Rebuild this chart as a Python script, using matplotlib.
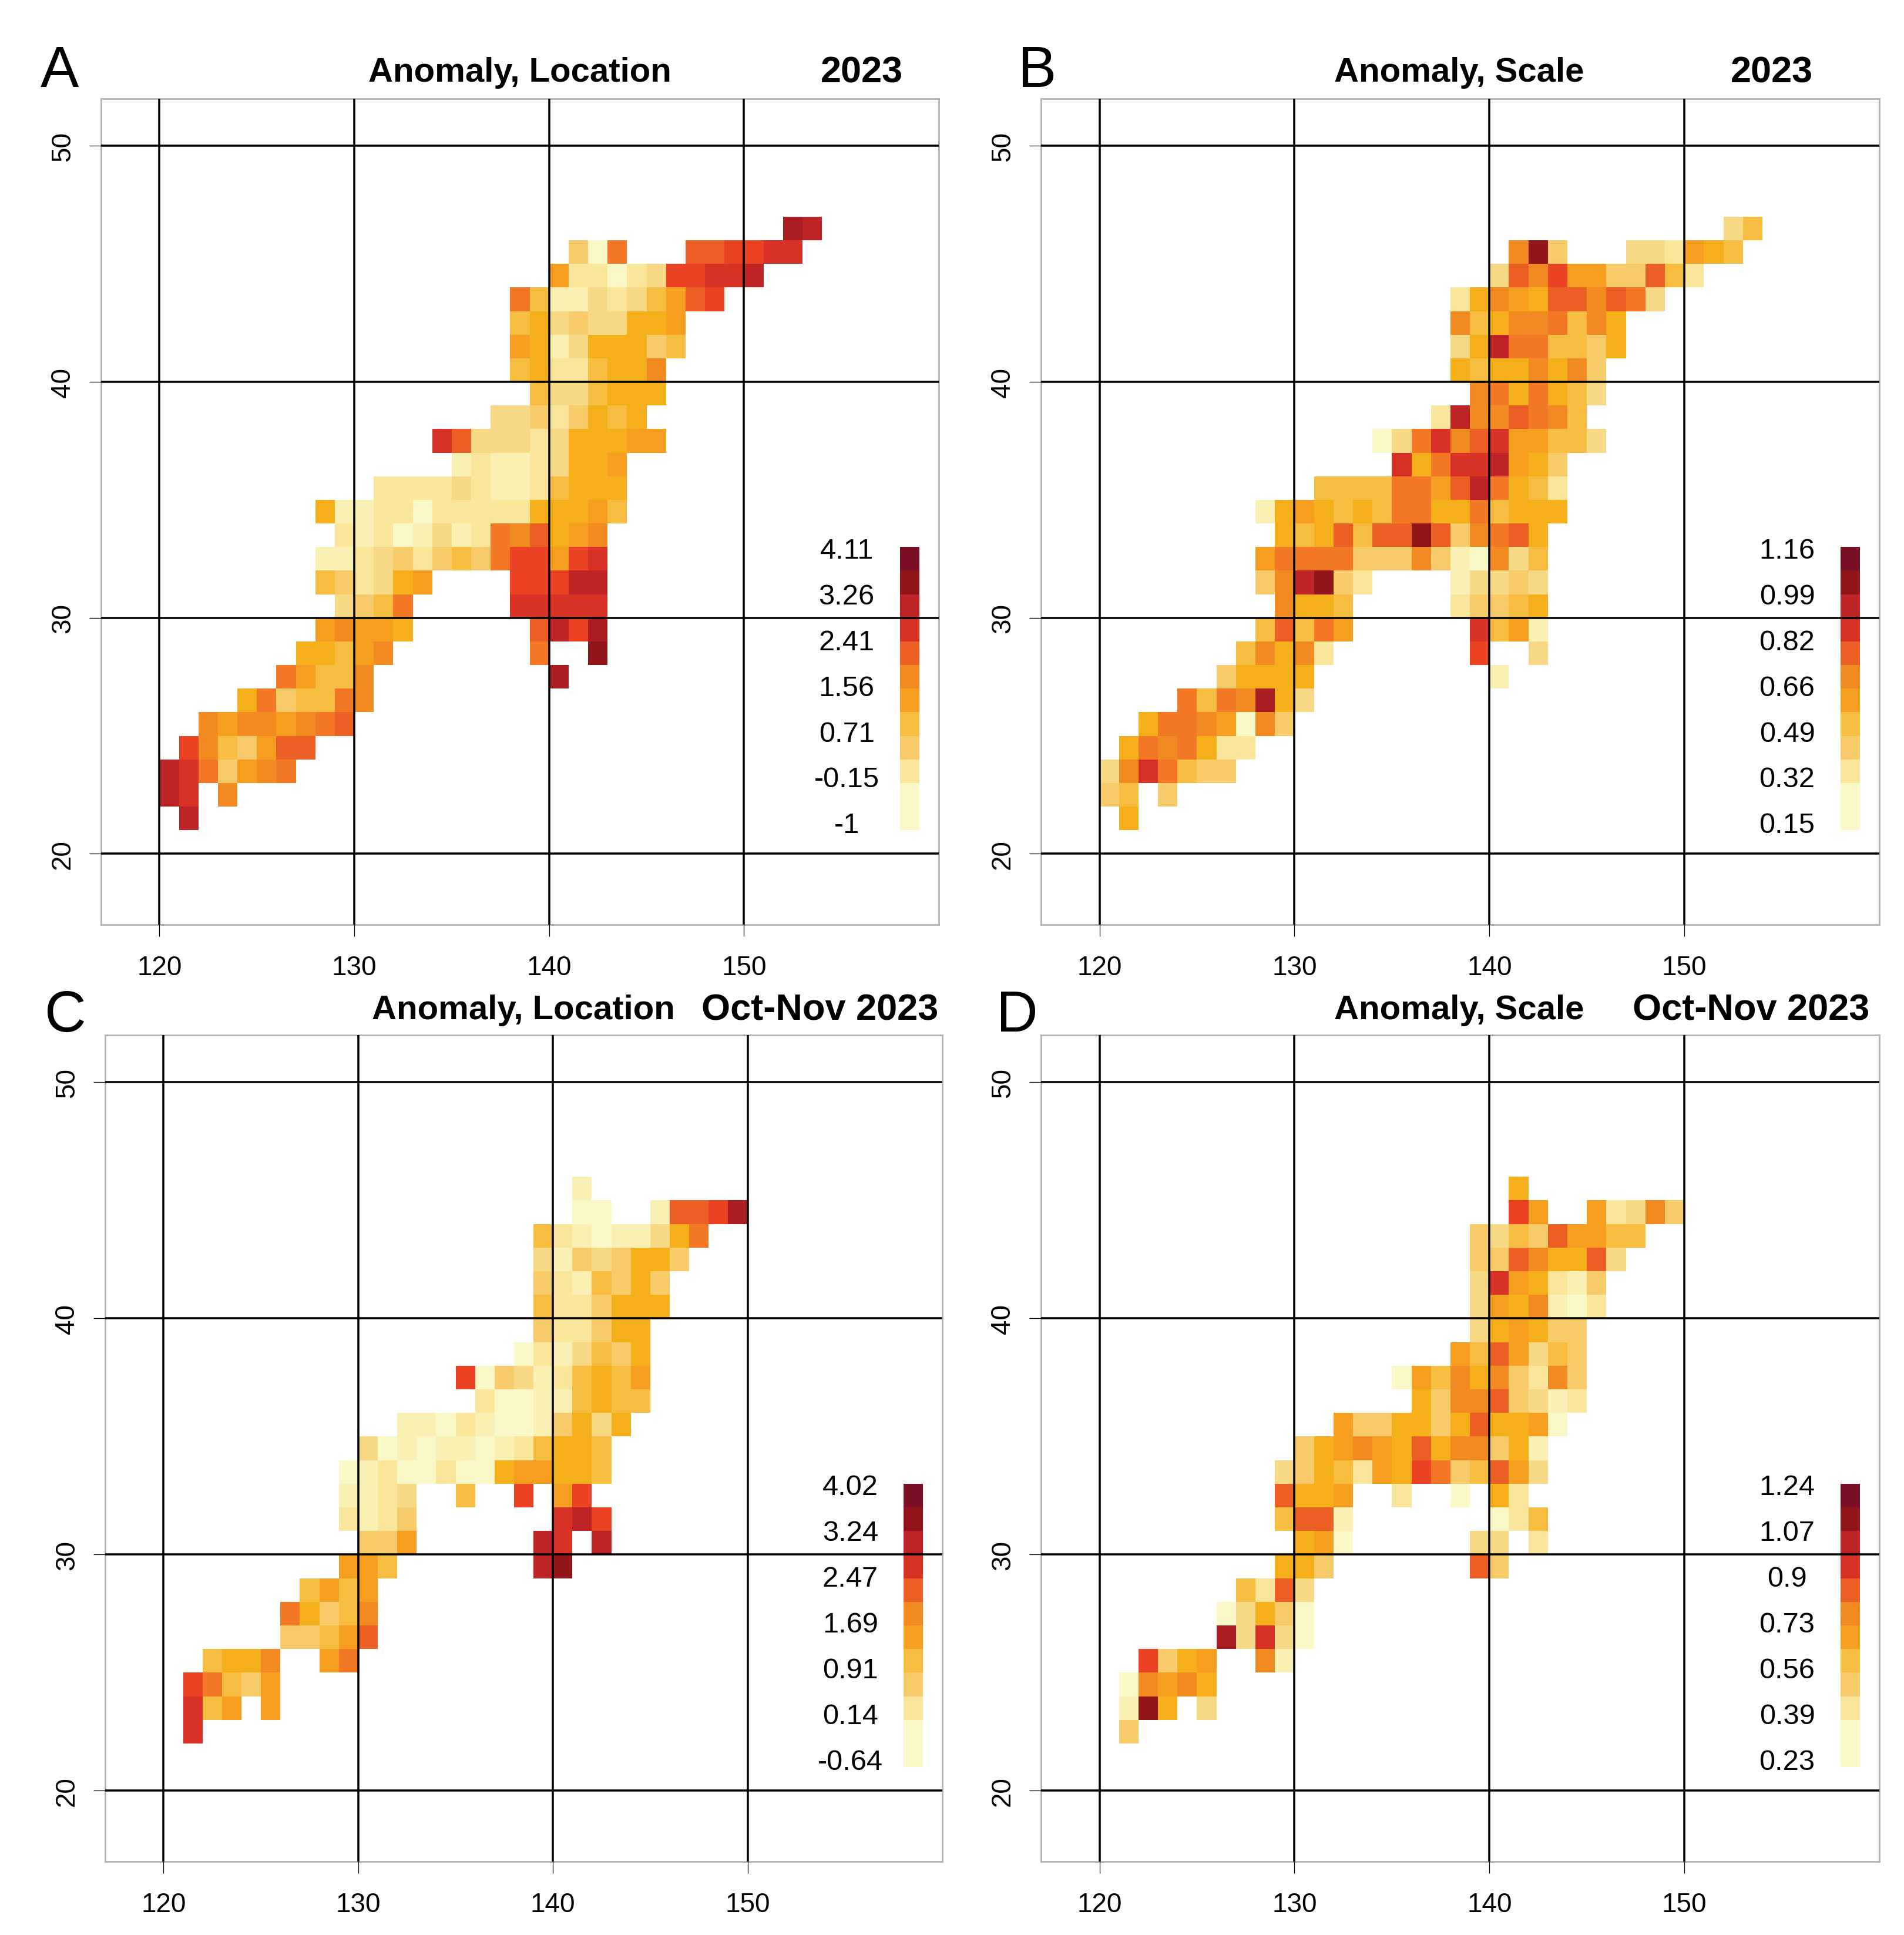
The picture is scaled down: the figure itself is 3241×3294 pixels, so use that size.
#!/usr/bin/env python3
"""Four panel anomaly maps (location and scale, 2023 and Oct-Nov 2023) on a 1 degree grid."""
import matplotlib
matplotlib.use("Agg")
import matplotlib.pyplot as plt
import numpy as np
from matplotlib.colors import BoundaryNorm, ListedColormap

W, H = 3241, 3295
DPI = 300

# colour classes, one letter per class, in order
CODES = "abcdefghijklmnopq"
COLORS = ["#FBF8C8", "#FBF0B3", "#F9E69A", "#F7D985", "#F7CB69", "#F7BD40", "#F5AF1B",
          "#F59E1F", "#F18A21", "#F27825", "#EB5F25", "#EA4223", "#D73225", "#BE2425",
          "#AA1D22", "#911518", "#7B1025"]
# the classes shown in the little colour key, bottom to top
KEY_CODES = "aacefhikmnpq"

# (lat of the cell's south edge, lon of first cell's west edge, classes), "." = no data
ROWS_A = [(46, 152, "on"), (45, 141, "eaj...kkllmm"), (44, 140, "hccacdllmmn"),
          (43, 138, "jfbbdcdfhkl"), (42, 138, "fgdeddggh"), (41, 138, "hgbdgggef"),
          (40, 138, "fgccfggi"), (39, 139, "fddfggg"), (38, 137, "ddecegfg"),
          (37, 134, "mkdddcdggghh"), (36, 135, "bcbbcdggh"), (35, 131, "ccccdcbbcfggg"),
          (34, 128, "gbbccacccccggghf"), (33, 129, "cbcabdbcjikghi"),
          (32, 128, "bbcdecefejllhlm"), (31, 128, "fecdgh....lllnn"),
          (30, 129, "defj.....mmmmm"), (29, 128, "hihhg......knlo"),
          (28, 127, "ggfhi.......j..p"), (27, 126, "jhffi.........o"), (26, 124, "gjeffji"),
          (25, 122, "ihiihijk"), (24, 121, "lifehkk"), (23, 120, "nmjehij"),
          (22, 120, "nm.i"), (21, 121, "n")]
ROWS_B = [(46, 152, "df"), (45, 141, "ipe...ddchgf"), (44, 140, "dkilhheekfc"),
          (43, 138, "cgihgkkikjd"), (42, 138, "ifgiijfig"), (41, 138, "dgnjjffeg"),
          (40, 138, "gfggigie"), (39, 139, "ijgjgfd"), (38, 137, "cniikjif"),
          (37, 134, "adjmikmhhffd"), (36, 135, "mgjmmnhge"), (35, 131, "ffffjjhknjgfc"),
          (34, 128, "bghgfgfjjggjfggg"), (33, 129, "gfgkfkkpkeijkg"),
          (32, 128, "hjjjjeeeiebaidf"), (31, 128, "einpec....bdded"),
          (30, 129, "iggf.....ceefg"), (29, 128, "fkfjh......mfhb"),
          (28, 127, "figic.......l..d"), (27, 126, "egggg.........b"), (26, 124, "jfjiogd"),
          (25, 122, "gjjihaie"), (24, 121, "gjijgcc"), (23, 120, "dimjfee"),
          (22, 120, "ef.e"), (21, 121, "g")]
ROWS_C = [(45, 141, "b"), (44, 141, "aa..bkklo"), (43, 139, "fcbabbdgj"),
          (42, 139, "dbedegge"), (41, 139, "ecbfege"), (40, 139, "fcceggg"),
          (39, 139, "eccegg"), (38, 138, "acbdfeg"), (37, 135, "laedbcfgfh"),
          (36, 136, "caabbfgff"), (35, 132, "bbacbaabegdg"), (34, 130, "dababbabcfggf"),
          (33, 129, "abcaacaaghhggf"), (32, 129, "bbcd..f..l.hl"),
          (31, 129, "cbce.......mnl"), (30, 130, "eeh......nm.n"),
          (29, 129, "hhf.......np"), (28, 127, "fhfh"), (27, 126, "jgefi"),
          (26, 126, "eefhk"), (25, 122, "fggi..hj"), (24, 121, "ljfeh"),
          (23, 121, "mfh.h"), (22, 121, "m")]
ROWS_D = [(45, 141, "g"), (44, 141, "lh..hcdie"), (43, 139, "edfekhhff"),
          (42, 139, "eekiggkd"), (41, 139, "dmhgcbe"), (40, 139, "dhgibac"),
          (39, 139, "dghgee"), (38, 138, "hfkhdfe"), (37, 135, "ahfigiecie"),
          (36, 136, "geiikedbc"), (35, 132, "heeggegkggha"), (34, 130, "eghihgkgiiegb"),
          (33, 129, "degfchgljefkhd"), (32, 129, "kggh..c..a.gc"),
          (31, 129, "fkkb.......acf"), (30, 130, "gha......dd.c"),
          (29, 129, "gge.......ke"), (28, 127, "fckd"), (27, 126, "adgea"),
          (26, 126, "odmda"), (25, 122, "legh..ib"), (24, 121, "aihig"),
          (23, 121, "bpg.d"), (22, 121, "e")]

KEY_A = ["4.11", "3.26", "2.41", "1.56", "0.71", "-0.15", "-1"]
KEY_B = ["1.16", "0.99", "0.82", "0.66", "0.49", "0.32", "0.15"]
KEY_C = ["4.02", "3.24", "2.47", "1.69", "0.91", "0.14", "-0.64"]
KEY_D = ["1.24", "1.07", "0.9", "0.73", "0.56", "0.39", "0.23"]

XTICKS = [120, 130, 140, 150]
YTICKS = [20, 30, 40, 50]

plt.rcParams["font.family"] = ["Liberation Sans", "DejaVu Sans"]

cmap = ListedColormap(COLORS)
norm = BoundaryNorm(np.arange(len(COLORS) + 1) - 0.5, len(COLORS))
lon_edges = np.arange(117, 161)
lat_edges = np.arange(17, 53)


def to_grid(rows):
    grid = np.full((len(lat_edges) - 1, len(lon_edges) - 1), np.nan)
    for lat, lon, cells in rows:
        for i, c in enumerate(cells):
            if c != ".":
                grid[lat - 17, lon - 117 + i] = CODES.index(c)
    return np.ma.masked_invalid(grid)


panels = [
    # rows, key labels, box px (l, r, t, b), letter, letter xy, title, title x, right title, its x, title y
    (ROWS_A, KEY_A, (172, 1598, 169, 1575), "A", (101, 123), "Anomaly, Location", 885, "2023", 1467, 124),
    (ROWS_B, KEY_B, (1772, 3199, 169, 1575), "B", (1766, 123), "Anomaly, Scale", 2484, "2023", 3016, 124),
    (ROWS_C, KEY_C, (179, 1604, 1763, 3170), "C", (111, 1731), "Anomaly, Location", 891, "Oct-Nov 2023", 1396, 1720),
    (ROWS_D, KEY_D, (1772, 3199, 1763, 3170), "D", (1731, 1731), "Anomaly, Scale", 2484, "Oct-Nov 2023", 2981, 1720),
]

fig = plt.figure(figsize=(W / DPI, H / DPI), dpi=DPI)
for rows, key, (l, r, t, b), letter, lxy, title, tx, right, rx, ty in panels:
    ax = fig.add_axes([l / W, 1 - b / H, (r - l) / W, (b - t) / H])
    ax.pcolormesh(lon_edges, lat_edges, to_grid(rows), cmap=cmap, norm=norm, linewidth=0, rasterized=True)

    # colour key lives in the map's own coordinates, one square per degree of lat
    key_vals = np.array([[CODES.index(c)] for c in KEY_CODES])
    ax.pcolormesh([158, 159], np.arange(21, 34), key_vals, cmap=cmap, norm=norm)
    for i, s in enumerate(key):
        ax.text(155.27, 32.85 - i * 1.94, s, fontsize=11.7, ha="center", va="center", color="black")

    ax.set_xlim(117, 160)
    ax.set_ylim(17, 52)
    ax.set_xticks(XTICKS)
    ax.set_yticks(YTICKS)
    ax.grid(True, color="black", linewidth=0.85)
    ax.set_axisbelow(False)
    ax.tick_params(length=4.8, width=0.3, labelsize=11, color="black")
    ax.tick_params(axis="x", pad=7.5)
    ax.tick_params(axis="y", pad=5.5)
    for lab in ax.get_yticklabels():
        lab.set_rotation(90)
        lab.set_va("center")
    for sp in ax.spines.values():
        sp.set_color("#B0B0B0")
        sp.set_linewidth(0.65)

    fig.text(lxy[0] / W, 1 - lxy[1] / H, letter, fontsize=23.5, ha="center", va="center")
    fig.text(tx / W, 1 - ty / H, title, fontsize=13.95, fontweight="bold", ha="center", va="center")
    fig.text(rx / W, 1 - ty / H, right, fontsize=15.15, fontweight="bold", ha="center", va="center")

fig.savefig("out.png", dpi=DPI)
print("wrote out.png")
